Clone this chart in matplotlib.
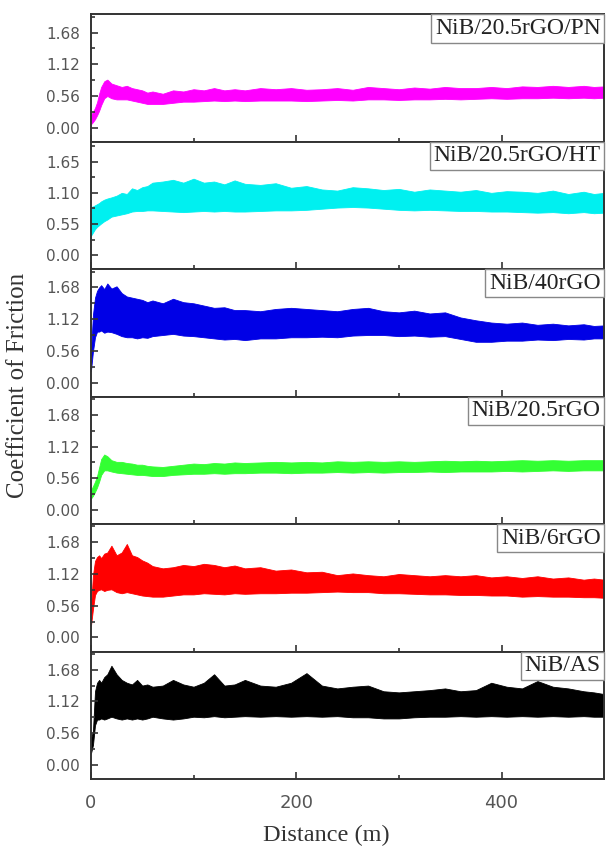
import matplotlib.pyplot as plt
from matplotlib.offsetbox import AnchoredText
from matplotlib.ticker import FixedLocator, FormatStrFormatter

distance = [0, 2, 4, 6, 8, 10, 13, 16, 20, 25, 30, 35, 40, 45, 50, 55, 60, 70, 80, 90,
            100, 110, 120, 130, 140, 150, 165, 180, 195, 210, 225, 240, 255, 270, 285,
            300, 315, 330, 345, 360, 375, 390, 405, 420, 435, 450, 465, 480, 490, 500]

# upper / lower edge of each noisy friction trace
pn_upper = [0.22, 0.28, 0.35, 0.45, 0.60, 0.72, 0.82, 0.85, 0.78, 0.75, 0.72, 0.74, 0.70, 0.68,
            0.66, 0.62, 0.64, 0.60, 0.66, 0.64, 0.68, 0.66, 0.70, 0.66, 0.68, 0.66, 0.70, 0.68,
            0.70, 0.67, 0.68, 0.70, 0.67, 0.72, 0.70, 0.68, 0.71, 0.69, 0.72, 0.70, 0.70, 0.72,
            0.70, 0.73, 0.72, 0.74, 0.72, 0.74, 0.72, 0.73]
pn_lower = [0.06, 0.10, 0.15, 0.22, 0.30, 0.40, 0.52, 0.56, 0.52, 0.50, 0.50, 0.50, 0.48, 0.46,
            0.44, 0.42, 0.42, 0.42, 0.44, 0.46, 0.46, 0.47, 0.48, 0.47, 0.48, 0.47, 0.48, 0.48,
            0.48, 0.47, 0.48, 0.49, 0.48, 0.50, 0.50, 0.49, 0.50, 0.50, 0.51, 0.50, 0.51, 0.52,
            0.51, 0.52, 0.52, 0.53, 0.52, 0.53, 0.52, 0.53]

ht_upper = [0.85, 0.86, 0.88, 0.90, 0.92, 0.95, 0.98, 1.00, 1.02, 1.05, 1.10, 1.08, 1.18, 1.15,
            1.20, 1.22, 1.28, 1.30, 1.33, 1.28, 1.35, 1.28, 1.30, 1.25, 1.32, 1.26, 1.24, 1.27,
            1.19, 1.22, 1.16, 1.14, 1.20, 1.18, 1.15, 1.17, 1.12, 1.16, 1.14, 1.12, 1.15, 1.10,
            1.13, 1.12, 1.10, 1.14, 1.08, 1.12, 1.08, 1.10]
ht_lower = [0.34, 0.40, 0.46, 0.50, 0.53, 0.56, 0.60, 0.63, 0.68, 0.70, 0.72, 0.74, 0.77, 0.78,
            0.78, 0.79, 0.79, 0.78, 0.77, 0.76, 0.77, 0.78, 0.77, 0.78, 0.77, 0.77, 0.78, 0.79,
            0.79, 0.80, 0.82, 0.84, 0.85, 0.84, 0.82, 0.80, 0.79, 0.80, 0.79, 0.78, 0.78, 0.77,
            0.77, 0.76, 0.75, 0.76, 0.74, 0.76, 0.74, 0.75]

rgo40_upper = [0.50, 1.20, 1.50, 1.62, 1.68, 1.72, 1.65, 1.75, 1.66, 1.70, 1.58, 1.52, 1.50, 1.48,
               1.46, 1.42, 1.45, 1.40, 1.48, 1.42, 1.40, 1.36, 1.32, 1.33, 1.28, 1.28, 1.26, 1.30,
               1.32, 1.30, 1.28, 1.26, 1.30, 1.32, 1.26, 1.24, 1.27, 1.22, 1.24, 1.15, 1.10, 1.06,
               1.04, 1.06, 1.02, 1.04, 1.01, 1.03, 1.00, 1.01]
rgo40_lower = [0.20, 0.55, 0.80, 0.90, 0.90, 0.92, 0.88, 0.90, 0.89, 0.86, 0.82, 0.80, 0.80, 0.78,
               0.80, 0.79, 0.82, 0.84, 0.86, 0.83, 0.82, 0.80, 0.78, 0.76, 0.77, 0.75, 0.78, 0.78,
               0.80, 0.80, 0.81, 0.80, 0.83, 0.84, 0.84, 0.82, 0.83, 0.81, 0.82, 0.77, 0.72, 0.72,
               0.74, 0.74, 0.76, 0.75, 0.77, 0.76, 0.78, 0.78]

rgo20_upper = [0.35, 0.42, 0.50, 0.60, 0.75, 0.90, 0.98, 0.95, 0.88, 0.85, 0.85, 0.83, 0.82, 0.80,
               0.80, 0.78, 0.77, 0.76, 0.78, 0.80, 0.82, 0.81, 0.83, 0.82, 0.84, 0.83, 0.84, 0.85,
               0.84, 0.85, 0.84, 0.86, 0.85, 0.86, 0.85, 0.86, 0.85, 0.86, 0.87, 0.86, 0.87, 0.86,
               0.87, 0.88, 0.87, 0.88, 0.87, 0.88, 0.88, 0.88]
rgo20_lower = [0.20, 0.25, 0.32, 0.40, 0.50, 0.62, 0.70, 0.70, 0.68, 0.66, 0.65, 0.64, 0.63, 0.62,
               0.62, 0.61, 0.60, 0.60, 0.62, 0.63, 0.64, 0.64, 0.65, 0.64, 0.65, 0.65, 0.66, 0.66,
               0.65, 0.66, 0.66, 0.67, 0.66, 0.67, 0.66, 0.67, 0.67, 0.68, 0.67, 0.68, 0.68, 0.68,
               0.69, 0.68, 0.69, 0.70, 0.69, 0.70, 0.70, 0.70]

rgo6_upper = [0.50, 1.10, 1.35, 1.42, 1.45, 1.40, 1.48, 1.50, 1.62, 1.45, 1.50, 1.65, 1.45, 1.42,
              1.36, 1.32, 1.26, 1.22, 1.24, 1.28, 1.26, 1.30, 1.28, 1.24, 1.27, 1.22, 1.24, 1.18,
              1.20, 1.15, 1.16, 1.10, 1.13, 1.10, 1.08, 1.12, 1.10, 1.08, 1.10, 1.08, 1.10, 1.06,
              1.08, 1.05, 1.08, 1.04, 1.06, 1.02, 1.04, 1.02]
rgo6_lower = [0.20, 0.50, 0.75, 0.82, 0.84, 0.85, 0.82, 0.84, 0.85, 0.80, 0.78, 0.80, 0.78, 0.76,
              0.74, 0.73, 0.72, 0.72, 0.74, 0.76, 0.76, 0.78, 0.77, 0.76, 0.78, 0.77, 0.78, 0.78,
              0.79, 0.79, 0.80, 0.81, 0.80, 0.80, 0.78, 0.78, 0.77, 0.76, 0.76, 0.75, 0.75, 0.74,
              0.74, 0.72, 0.73, 0.72, 0.72, 0.71, 0.71, 0.70]

as_upper = [0.45, 0.60, 1.30, 1.45, 1.50, 1.45, 1.55, 1.60, 1.75, 1.60, 1.50, 1.45, 1.42, 1.50,
            1.40, 1.42, 1.38, 1.40, 1.50, 1.42, 1.38, 1.45, 1.60, 1.40, 1.42, 1.50, 1.40, 1.38,
            1.45, 1.62, 1.40, 1.35, 1.38, 1.40, 1.30, 1.28, 1.30, 1.32, 1.35, 1.30, 1.32, 1.45,
            1.38, 1.35, 1.48, 1.38, 1.35, 1.30, 1.28, 1.25]
as_lower = [0.20, 0.35, 0.70, 0.80, 0.80, 0.82, 0.80, 0.82, 0.85, 0.82, 0.80, 0.82, 0.80, 0.82,
            0.80, 0.82, 0.85, 0.82, 0.80, 0.82, 0.85, 0.84, 0.86, 0.84, 0.85, 0.86, 0.85, 0.86,
            0.85, 0.86, 0.85, 0.86, 0.84, 0.84, 0.82, 0.82, 0.84, 0.85, 0.85, 0.86, 0.85, 0.86,
            0.85, 0.86, 0.85, 0.86, 0.85, 0.86, 0.85, 0.85]

labels = ["NiB/20.5rGO/PN", "NiB/20.5rGO/HT", "NiB/40rGO", "NiB/20.5rGO", "NiB/6rGO", "NiB/AS"]
colors = ["#ff00ff", "#00f0f0", "#0000e6", "#33ff33", "#ff0000", "#000000"]
uppers = [pn_upper, ht_upper, rgo40_upper, rgo20_upper, rgo6_upper, as_upper]
lowers = [pn_lower, ht_lower, rgo40_lower, rgo20_lower, rgo6_lower, as_lower]
yticks = [[0.00, 0.56, 1.12, 1.68], [0.00, 0.55, 1.10, 1.65], [0.00, 0.56, 1.12, 1.68],
          [0.00, 0.56, 1.12, 1.68], [0.00, 0.56, 1.12, 1.68], [0.00, 0.56, 1.12, 1.68]]

serif = ["Liberation Serif", "DejaVu Serif"]
edge = "#333333"

fig, axes = plt.subplots(6, 1, figsize=(6.06, 8.5), dpi=100, sharex=True)
fig.subplots_adjust(left=0.150, right=0.997, top=0.983, bottom=0.0835, hspace=0)

for ax, lab, col, up, lo, yt in zip(axes, labels, colors, uppers, lowers, yticks):
    ax.fill_between(distance, lo, up, color=col, lw=0.6, edgecolor=col)
    ax.set_xlim(0, 500)
    ax.set_ylim(-0.25, 2.0)
    ax.yaxis.set_major_locator(FixedLocator(yt))
    ax.yaxis.set_minor_locator(FixedLocator([v + (yt[1] - yt[0]) / 2 for v in yt]))
    ax.yaxis.set_major_formatter(FormatStrFormatter("%.2f"))
    ax.xaxis.set_major_locator(FixedLocator([0, 200, 400]))
    ax.xaxis.set_minor_locator(FixedLocator([100, 300]))
    ax.tick_params(which="both", direction="in", color=edge, width=1.2)
    ax.tick_params(which="major", length=5)
    ax.tick_params(which="minor", length=3)
    ax.tick_params(axis="y", labelsize=11, labelcolor="#555555", pad=8)
    ax.tick_params(axis="x", labelsize=13, labelcolor="#555555", pad=11)
    for sp in ax.spines.values():
        sp.set_color(edge)
        sp.set_linewidth(1.4)

    box = AnchoredText(lab, loc="upper right", borderpad=0, pad=0.15,
                       prop=dict(family=serif, size=17, color="#222222"))
    box.patch.set_edgecolor("#888888")
    box.patch.set_linewidth(1.0)
    ax.add_artist(box)

fig.text(0.03, 0.547, "Coefficient of Friction", rotation=90, ha="center", va="center",
         family=serif, size=18, color="#333333")
fig.text(0.538, 0.017, "Distance (m)", ha="center", va="center",
         family=serif, size=17.5, color="#333333")

fig.savefig("out.png", dpi=100)
